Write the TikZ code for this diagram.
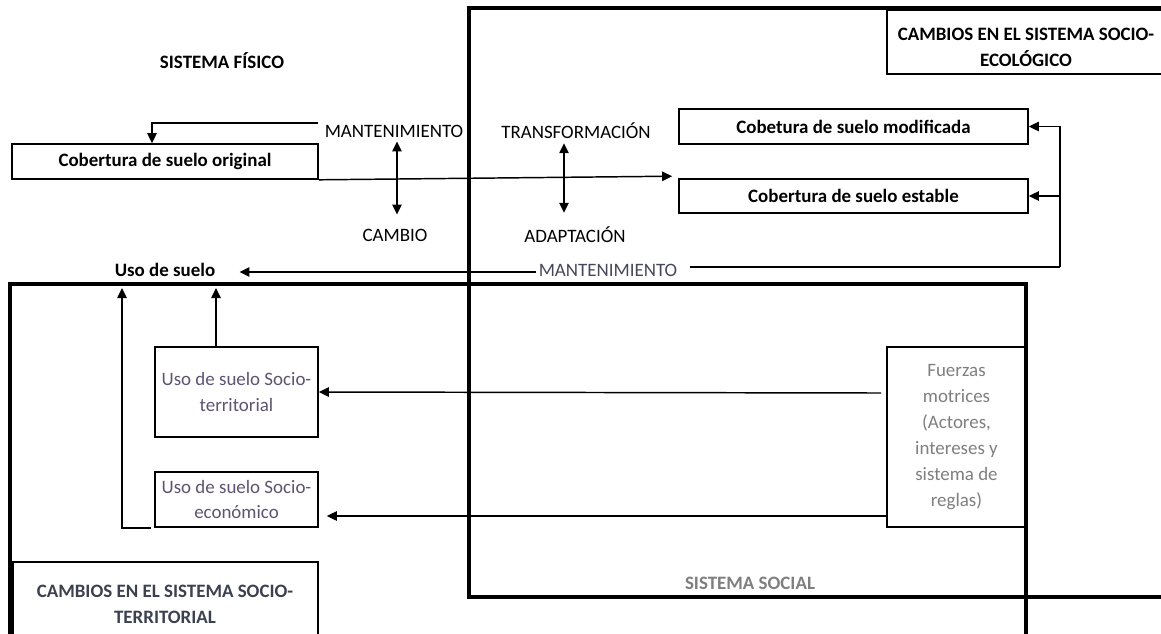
\documentclass[tikz,border=0pt]{standalone}
\usepackage{fontspec}
\setmainfont{Carlito}
\usetikzlibrary{arrows.meta,calc}
\definecolor{purplegray}{HTML}{5E5470}
\definecolor{midgray}{HTML}{7F7F7F}
\definecolor{darkslate}{HTML}{3C4150}
\begin{document}
\begin{tikzpicture}[x=0.75pt,y=-0.75pt,
  every node/.style={font=\fontsize{14.2}{19}\selectfont, inner sep=0pt},
  lbl/.style={},
  blbl/.style={font=\fontsize{14.2}{19}\selectfont\bfseries},
  cbox/.style={draw, line width=1.2pt, align=center},
  outerframe/.style={draw, line width=2.4pt},
  thinline/.style={line width=1.1pt},
  arr/.style={thinline, -{Triangle[length=7.5pt,width=7pt]}},
  darr/.style={thinline, {Triangle[length=7.5pt,width=7pt]}-{Triangle[length=7.5pt,width=7pt]}}]
\clip (0,0) rectangle (1161,633);
\fill[white] (0,0) rectangle (1161,633);

% big frames
\path[outerframe] (469,8) rectangle (1175,597);
\path[outerframe] (10,284) rectangle (1026,650);

% top-right label box
\draw[line width=1.2pt] (1175,10) -- (887,10) -- (887,74) -- (1175,74);
\node[blbl, align=center, font=\fontsize{14.2}{20}\selectfont\bfseries] (eco) at (1026,47.5) {CAMBIOS EN EL SISTEMA SOCIO-\\ECOLÓGICO};

% physical system
\node[blbl] (fis) at (222,61) {SISTEMA FÍSICO};
\node[cbox, font=\fontsize{14.2}{19}\selectfont\bfseries, minimum width=306*0.75pt, minimum height=35*0.75pt] (orig) at (165,161.5) {Cobertura de suelo original};
\node[lbl] (mant1) at (394,131) {MANTENIMIENTO};
\node[lbl] (cambio) at (395,235) {CAMBIO};
\node[lbl] (transf) at (576,131) {TRANSFORMACIÓN};
\node[lbl] (adapt) at (575,235) {ADAPTACIÓN};
\node[cbox, font=\fontsize{14.2}{19}\selectfont\bfseries, minimum width=349*0.75pt, minimum height=35*0.75pt] (modif) at (853.5,126.5) {Cobetura de suelo modificada};
\node[cbox, font=\fontsize{14.2}{19}\selectfont\bfseries, minimum width=349*0.75pt, minimum height=34*0.75pt] (estable) at (853.5,196) {Cobertura de suelo estable};
\node[blbl] (uso) at (165,270) {Uso de suelo};
\node[lbl, text=darkslate!70!purplegray] (mant2) at (608,270) {MANTENIMIENTO};

% social system
\node[cbox, text=purplegray, minimum width=163*0.75pt, minimum height=90*0.75pt] (terr) at (236.5,392) {Uso de suelo Socio-\\territorial};
\node[cbox, text=purplegray, minimum width=163*0.75pt, minimum height=55*0.75pt] (econ) at (236.5,499.5) {Uso de suelo Socio-\\económico};
\node[cbox, text=midgray, minimum width=139*0.75pt, minimum height=180*0.75pt, font=\fontsize{14.2}{19.6}\selectfont] (fuer) at (956.5,437) {Fuerzas\\motrices\\(Actores,\\intereses y\\sistema de\\reglas)};
\node[blbl, text=midgray] (social) at (750,583) {SISTEMA SOCIAL};
\draw[line width=1.2pt] (13,650) -- (13,562) -- (318,562) -- (318,650);
\node[blbl, text=darkslate, align=center, font=\fontsize{14.2}{19}\selectfont\bfseries] (terrtxt) at (165,604.5) {CAMBIOS EN EL SISTEMA SOCIO-\\TERRITORIAL};

% connectors
\coordinate (m1s) at (318,123);
\coordinate (origin) at (152,0);
\draw[arr] (m1s) -| (orig.north -| origin);
\draw[arr] (orig.south east) -- ($(estable.north west)+(-6,-2)$);
\draw[darr] ($(mant1.south)+(3,4)$) -- ($(cambio.north)+(2,-14)$);
\draw[darr] ($(transf.south)+(-12,4)$) -- ($(adapt.north)+(-11,-14)$);
\coordinate (loop) at (1060,267);
\draw[thinline] ($(mant2.east)+(12,-3)$) -- (loop);
\draw[arr] (loop) |- (modif.east);
\draw[arr] (loop |- estable.east) -- (estable.east);
\draw[arr] ($(mant2.west)+(-2,2)$) -- ($(uso.east)+(24,2)$);
\coordinate (tipA) at (216,288);
\coordinate (tipB) at (122,288);
\draw[arr] (terr.north -| tipA) -- (tipA);
\draw[arr] ($(econ.south west)+(-3,0)$) -| (tipB);
\draw[arr] ($(fuer.west |- terr.east)+(-5,1)$) -- (terr.east);
\coordinate (econB) at ($(econ.east)+(8,16.5)$);
\draw[arr] (fuer.west |- econB) -- (econB);
\end{tikzpicture}
\end{document}
